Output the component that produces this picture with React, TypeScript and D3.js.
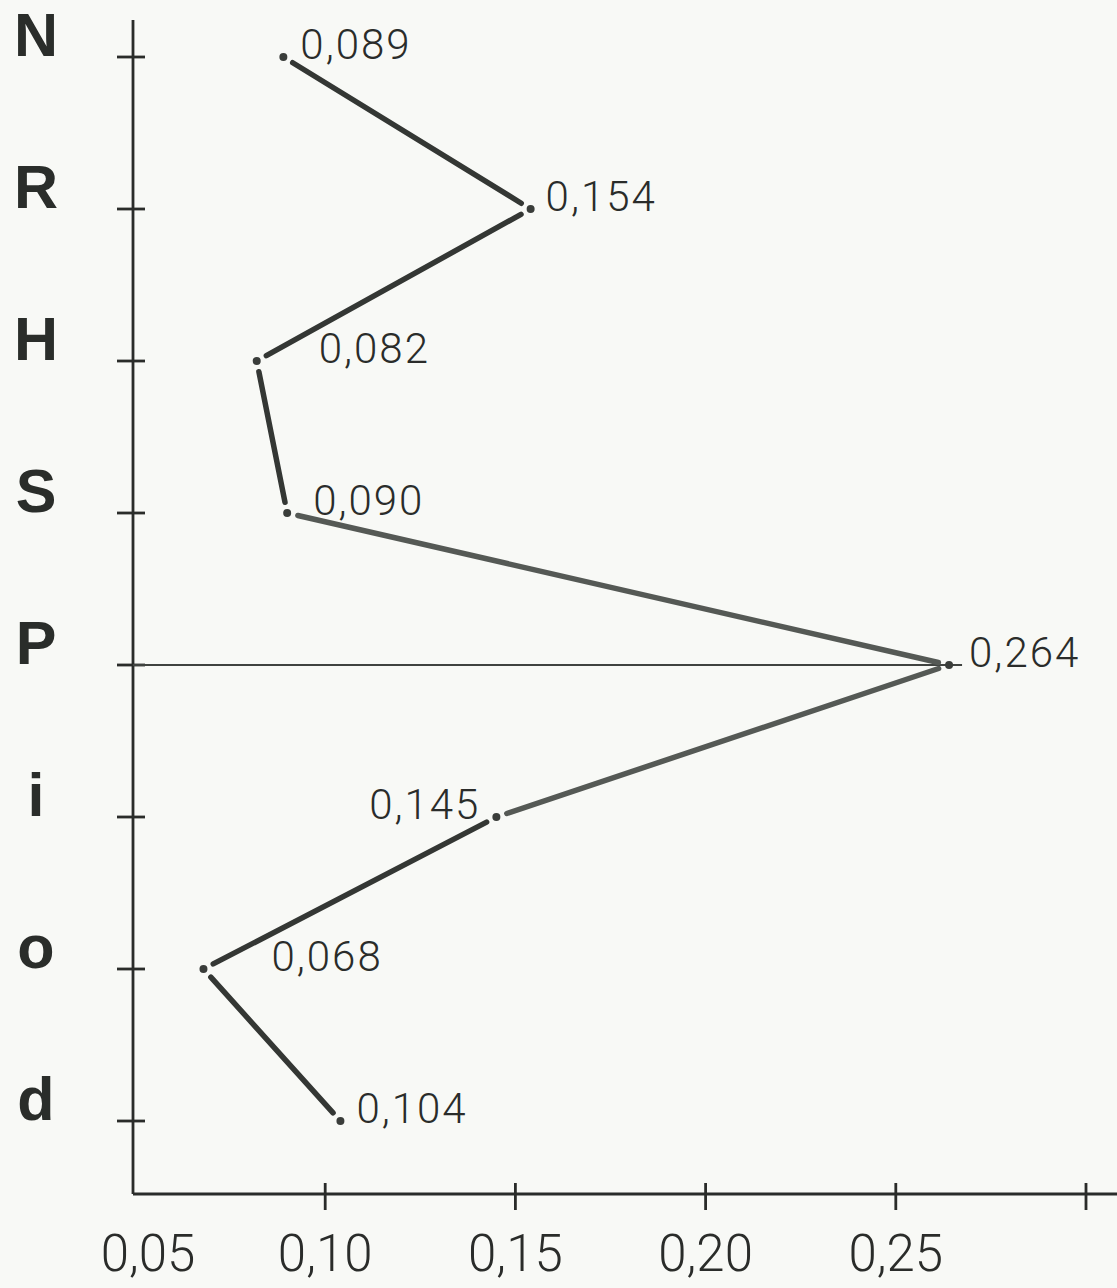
import { scaleLinear, scalePoint } from "d3";

const categories = ["N", "R", "H", "S", "P", "i", "o", "d"];
const values = [0.089, 0.154, 0.082, 0.09, 0.264, 0.145, 0.068, 0.104];
const xTicks = [0.05, 0.1, 0.15, 0.2, 0.25, 0.3];
const xTickLabels = ["0,05", "0,10", "0,15", "0,20", "0,25", ""];
const referenceCategory = "P";

// label placement next to each point (layout only)
const labelPlacement: Record<string, { dx: number; anchor: "start" | "end" }> = {
  N: { dx: 17, anchor: "start" },
  R: { dx: 15, anchor: "start" },
  H: { dx: 62, anchor: "start" },
  S: { dx: 26, anchor: "start" },
  P: { dx: 20, anchor: "start" },
  i: { dx: -16, anchor: "end" },
  o: { dx: 68, anchor: "start" },
  d: { dx: 16, anchor: "start" }
};

function formatValue(v: number) {
  return v.toFixed(3).replace(".", ",");
}

export default function App() {
  const width = 1117;
  const height = 1288;
  const axisX = 133;
  const axisY = 1194;
  const ink = "#2a2c2a";

  const x = scaleLinear().domain([0.05, 0.3]).range([135, 1086]);
  const y = scalePoint<string>().domain(categories).range([57, 1121]);

  const points = categories.map((c, i) => ({ c, v: values[i], px: x(values[i]), py: y(c) ?? 0 }));

  const gap = 11;
  const segments = points.slice(1).map((p, i) => {
    const a = points[i];
    const dx = p.px - a.px;
    const dy = p.py - a.py;
    const len = Math.hypot(dx, dy);
    const ux = dx / len;
    const uy = dy / len;
    const touchesRef = a.c === referenceCategory || p.c === referenceCategory;
    return {
      key: `${a.c}-${p.c}`,
      x1: a.px + ux * gap,
      y1: a.py + uy * gap,
      x2: p.px - ux * gap,
      y2: p.py - uy * gap,
      color: touchesRef ? "#555955" : "#343734"
    };
  });

  const ref = points.find((p) => p.c === referenceCategory)!;

  return (
    <svg width={width} height={height} viewBox={`0 0 ${width} ${height}`} style={{ display: "block", background: "#f8f9f6" }}>
      <style>{`body{margin:0}`}</style>
      <rect x={0} y={0} width={width} height={height} fill="#f8f9f6" />

      {/* y axis */}
      <line x1={axisX} x2={axisX} y1={20} y2={axisY} stroke={ink} strokeWidth={2.8} />
      {categories.map((c) => (
        <g key={c}>
          <line x1={117} x2={145} y1={y(c)} y2={y(c)} stroke={ink} strokeWidth={2.8} />
          <text
            x={36}
            y={(y(c) ?? 0) - 1}
            textAnchor="middle"
            fontFamily="'Liberation Sans', Arial, sans-serif"
            fontWeight="bold"
            fontSize={61}
            fill="#2a2d2a"
          >
            {c}
          </text>
        </g>
      ))}

      {/* x axis */}
      <line x1={axisX} x2={width} y1={axisY} y2={axisY} stroke={ink} strokeWidth={2.8} />
      {xTicks.map((t, i) => (
        <g key={t}>
          {i > 0 ? <line x1={x(t)} x2={x(t)} y1={1183} y2={1210} stroke={ink} strokeWidth={2.8} /> : null}
          <text
            x={Math.max(x(t), 148)}
            y={1271}
            textAnchor="middle"
            fontFamily="Roboto, 'DejaVu Sans', sans-serif"
            fontWeight={300}
            fontSize={51}
            fill={ink}
          >
            {xTickLabels[i]}
          </text>
        </g>
      ))}

      {/* reference line */}
      <line x1={axisX} x2={ref.px + 13} y1={ref.py} y2={ref.py} stroke="#404340" strokeWidth={2.2} />

      {segments.map((s) => (
        <line key={s.key} x1={s.x1} y1={s.y1} x2={s.x2} y2={s.y2} stroke={s.color} strokeWidth={5.5} strokeLinecap="round" />
      ))}

      {points.map((p) => {
        const place = labelPlacement[p.c];
        return (
          <g key={p.c}>
            <circle cx={p.px} cy={p.py} r={4} fill="#3a3d3a" />
            <text
              x={p.px + place.dx}
              y={p.py + 2}
              textAnchor={place.anchor}
              fontFamily="Roboto, 'DejaVu Sans', sans-serif"
              fontWeight={300}
              fontSize={42}
              letterSpacing={2}
              fill={ink}
            >
              {formatValue(p.v)}
            </text>
          </g>
        );
      })}
    </svg>
  );
}
